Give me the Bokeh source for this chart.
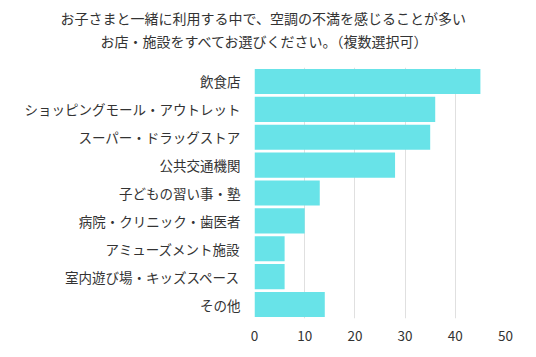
from bokeh.plotting import figure
from bokeh.models import Title, FactorRange, Range1d, FixedTicker
from bokeh.embed import file_html
from bokeh.resources import INLINE

categories = ["飲食店", "ショッピングモール・アウトレット", "スーパー・ドラッグストア", "公共交通機関",
              "子どもの習い事・塾", "病院・クリニック・歯医者", "アミューズメント施設",
              "室内遊び場・キッズスペース", "その他"]
values = [45, 36, 35, 28, 13, 10, 6, 6, 14]
x_ticks = [0, 10, 20, 30, 40, 50]
title_lines = ["お子さまと一緒に利用する中で、空調の不満を感じることが多い",
               "お店・施設をすべてお選びください。（複数選択可）"]

FONT = "Noto Sans CJK JP"
TXT = "#333333"

p = figure(width=536, height=357, output_backend="svg", toolbar_location=None,
           y_range=FactorRange(factors=list(reversed(categories)), range_padding=0),
           x_range=Range1d(0, 50),
           min_border_left=254, min_border_right=31, min_border_top=67, min_border_bottom=39)
p.outline_line_color = None
p.hbar(y=categories, right=values, height=0.9, left=0, color="#68e3e8", line_color=None)

p.xaxis.ticker = FixedTicker(ticks=x_ticks)
p.xgrid.ticker = FixedTicker(ticks=x_ticks)
p.xgrid.grid_line_color = "#e0e0e0"
p.ygrid.grid_line_color = None
p.grid.level = "underlay"
for ax in (p.xaxis[0], p.yaxis[0]):
    ax.axis_line_color = None
    ax.major_tick_line_color = None
    ax.minor_tick_line_color = None
    ax.major_label_text_font = FONT
    ax.major_label_text_font_size = "13.5px"
    ax.major_label_text_color = TXT
p.xaxis.major_label_standoff = 6
p.yaxis.major_label_standoff = 8

offsets = [-194, -154]
standoffs = [-32, 34]
# add line 2 first (closest to the frame), then line 1 above it
for i in (1, 0):
    p.add_layout(Title(text=title_lines[i], align="left", offset=offsets[i], standoff=standoffs[i],
                       text_font=FONT, text_font_size="14px", text_font_style="normal",
                       text_color=TXT), "above")

open("out.html", "w").write(file_html(p, INLINE))
